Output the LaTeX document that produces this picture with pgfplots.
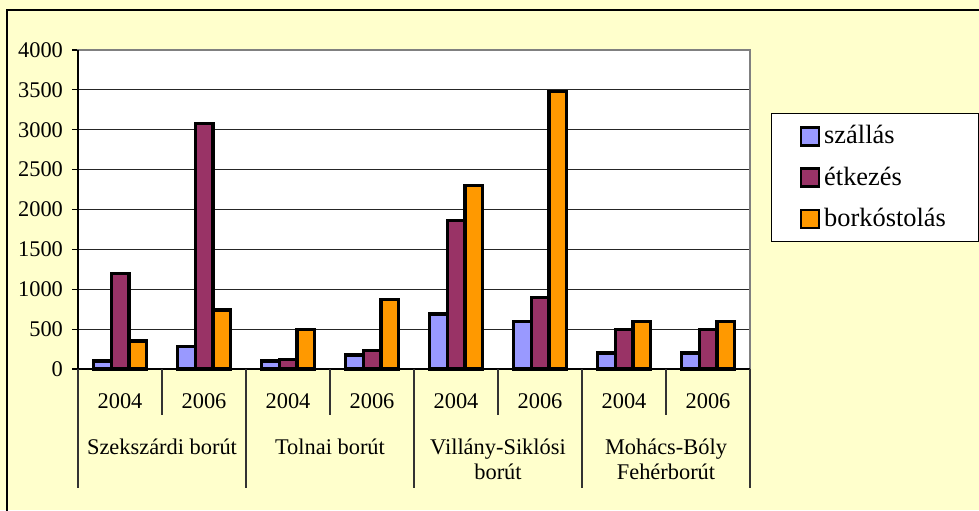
\documentclass[border=0pt]{standalone}
\usepackage{pgfplots}
\usepackage{pgfplotstable}
\pgfplotsset{compat=1.18}
\usepackage{fontspec}
\setmainfont{Liberation Serif}
\definecolor{bgY}{HTML}{FFFFCC}
\definecolor{cA}{HTML}{9999FF}
\definecolor{cB}{HTML}{993366}
\definecolor{cC}{HTML}{FF9900}

\pgfplotstableread{
x a b c
0 100 1200 350
1 280 3080 740
2 100 120 500
3 175 230 870
4 690 1860 2300
5 600 900 3480
6 200 500 600
7 200 500 600
}\data

\begin{document}
\begin{tikzpicture}[x=1pt,y=1pt]
\useasboundingbox (0,0) rectangle (489.5,255);
\fill[bgY] (0,0) rectangle (489.5,255);
\draw[black, line width=0.6pt] (3.5,-2) -- (3.5,250) -- (492,250);
\begin{axis}[
  at={(39pt,70.5pt)}, anchor=south west,
  scale only axis, width=336pt, height=159.5pt,
  xmin=-0.5, xmax=7.5, ymin=0, ymax=4000,
  ytick={0,500,...,4000},
  ytick pos=left,
  ybar=0pt, bar width=8.9pt,
  xtick={0,...,7},
  xticklabels={2004,2006,2004,2006,2004,2006,2004,2006},
  x tick style={draw=none},
  y tick style={black, line width=0.6pt},
  tick align=outside, major tick length=3pt,
  tick label style={font=\fontsize{11.2}{13}\selectfont},
  /pgf/number format/assume math mode=true,
  /pgf/number format/1000 sep={},
  xticklabel style={yshift=-6pt},
  yticklabel style={xshift=-1pt},
  axis line style={draw=black!50, line width=0.8pt},
  axis background/.style={fill=white},
  ymajorgrids, major grid style={black!85, line width=0.5pt},
  clip=false,
  legend style={at={(1.03125,0.8025)}, anchor=north west, draw=black, fill=white,
    line width=0.6pt, font=\fontsize{13.2}{15}\selectfont, inner xsep=14pt, inner ysep=4pt,
    row sep=6pt, legend cell align=left},
  legend image code/.code={\draw[#1, /tikz/line width=1.3pt] (0pt,-4.5pt) rectangle (9pt,4.5pt);},
]
\addplot[/tikz/draw=black, /tikz/line width=1.6pt, /tikz/fill=cA] table[x=x,y=a] {\data};
\addlegendentry{\makebox[61pt][l]{szállás}}
\addplot[/tikz/draw=black, /tikz/line width=1.6pt, /tikz/fill=cB] table[x=x,y=b] {\data};
\addlegendentry{\makebox[61pt][l]{étkezés}}
\addplot[/tikz/draw=black, /tikz/line width=1.6pt, /tikz/fill=cC] table[x=x,y=c] {\data};
\addlegendentry{\makebox[61pt][l]{borkóstolás}}
\draw[black, line width=0.8pt] (axis description cs:0,0) -- (axis description cs:0,1);
\draw[black, line width=0.8pt] (axis description cs:0,0) -- (axis description cs:1,0);
\pgfplotsinvokeforeach{-0.5,1.5,3.5,5.5,7.5}{\draw[black!80, line width=0.6pt] (axis cs:#1,0) -- ([yshift=-59.5pt]axis cs:#1,0);}
\pgfplotsinvokeforeach{0.5,2.5,4.5,6.5}{\draw[black!80, line width=0.6pt] (axis cs:#1,0) -- ([yshift=-23pt]axis cs:#1,0);}
\begin{scope}[every node/.style={anchor=north, align=center, font=\fontsize{11.2}{12.5}\selectfont, inner sep=0pt}]
\node at ([yshift=-35pt]axis cs:0.5,0) {Szekszárdi borút};
\node at ([yshift=-35pt]axis cs:2.5,0) {Tolnai borút};
\node at ([yshift=-35pt]axis cs:4.5,0) {Villány-Siklósi\\borút};
\node at ([yshift=-35pt]axis cs:6.5,0) {Mohács-Bóly\\Fehérborút};
\end{scope}
\end{axis}
\end{tikzpicture}
\end{document}
